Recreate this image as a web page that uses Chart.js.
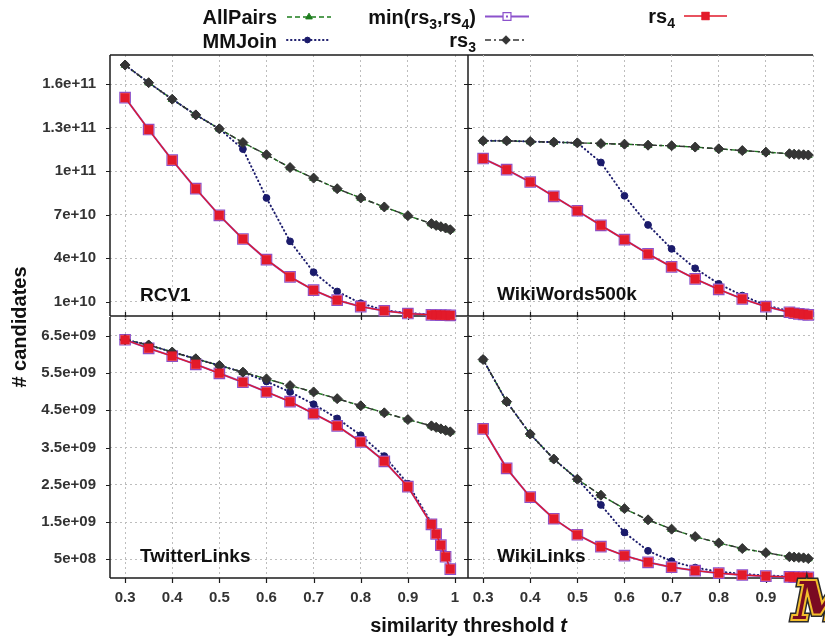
<!DOCTYPE html>
<html>
<head>
<meta charset="utf-8">
<title>Candidates vs. similarity threshold</title>
<script src="https://cdn.jsdelivr.net/npm/chart.js@4.4.1/dist/chart.umd.min.js"></script>
<style>
  html, body { margin: 0; padding: 0; background: #fff; }
  #stage { position: relative; width: 825px; height: 636px; overflow: hidden; background: #fff; }
  #stage canvas { position: absolute; left: 0; top: 0; }
</style>
</head>
<body>
<div id="stage">
  <canvas id="rcv1" width="825" height="636"></canvas>
  <canvas id="wikiwords" width="825" height="636"></canvas>
  <canvas id="twitter" width="825" height="636"></canvas>
  <canvas id="wikilinks" width="825" height="636"></canvas>
</div>
<script>
// ---------------------------------------------------------------------------
// Data: number of candidate pairs per similarity threshold t
// ---------------------------------------------------------------------------
const thresholds = [0.3, 0.35, 0.4, 0.45, 0.5, 0.55, 0.6, 0.65, 0.7, 0.75, 0.8, 0.85, 0.9, 0.95, 0.96, 0.97, 0.98, 0.99];

const xTicks = [0.3, 0.4, 0.5, 0.6, 0.7, 0.8, 0.9, 1.0];
const xTickLabels = ['0.3', '0.4', '0.5', '0.6', '0.7', '0.8', '0.9', '1'];

const yTicksUpper = [1e10, 4e10, 7e10, 1e11, 1.3e11, 1.6e11];
const yTickLabelsUpper = ['1e+10', '4e+10', '7e+10', '1e+11', '1.3e+11', '1.6e+11'];
const yTicksLower = [5e8, 1.5e9, 2.5e9, 3.5e9, 4.5e9, 5.5e9, 6.5e9];
const yTickLabelsLower = ['5e+08', '1.5e+09', '2.5e+09', '3.5e+09', '4.5e+09', '5.5e+09', '6.5e+09'];

// RCV1
const rcv1AllPairs = [173.1e9, 160.9e9, 149.5e9, 138.7e9, 129.1e9, 119.6e9, 111.2e9, 102.4e9, 95.1e9, 87.8e9, 81.4e9, 75.2e9, 69.2e9, 63.7e9, 62.5e9, 61.6e9, 60.7e9, 59.5e9];
const rcv1MMJoin   = [173.1e9, 160.9e9, 149.5e9, 138.7e9, 129.1e9, 115.1e9, 81.4e9, 51.5e9, 30.2e9, 16.9e9, 8.8e9, 4.0e9, 2.0e9, 1.0e9, 0.9e9, 0.8e9, 0.7e9, 0.6e9];
const rcv1MinRs    = [150.6e9, 128.6e9, 107.5e9, 87.8e9, 69.4e9, 53.1e9, 38.9e9, 27.0e9, 17.8e9, 10.9e9, 6.5e9, 3.6e9, 1.7e9, 0.8e9, 0.7e9, 0.6e9, 0.5e9, 0.4e9];
const rcv1Rs3      = [173.1e9, 160.9e9, 149.5e9, 138.7e9, 129.1e9, 119.6e9, 111.2e9, 102.4e9, 95.1e9, 87.8e9, 81.4e9, 75.2e9, 69.2e9, 63.7e9, 62.5e9, 61.6e9, 60.7e9, 59.5e9];
const rcv1Rs4      = [150.6e9, 128.6e9, 107.5e9, 87.8e9, 69.4e9, 53.1e9, 38.9e9, 27.0e9, 17.8e9, 10.9e9, 6.5e9, 3.6e9, 1.7e9, 0.8e9, 0.7e9, 0.6e9, 0.5e9, 0.4e9];

// WikiWords500k
const wwAllPairs = [120.8e9, 120.8e9, 120.3e9, 119.9e9, 119.4e9, 118.9e9, 118.5e9, 117.8e9, 117.4e9, 116.5e9, 115.3e9, 114.1e9, 113.0e9, 111.9e9, 111.6e9, 111.4e9, 111.2e9, 111.0e9];
const wwMMJoin   = [120.8e9, 120.8e9, 120.3e9, 119.9e9, 119.4e9, 105.9e9, 82.9e9, 62.8e9, 46.3e9, 32.9e9, 22.2e9, 14.1e9, 7.4e9, 3.3e9, 2.8e9, 2.3e9, 1.9e9, 1.5e9];
const wwMinRs    = [108.6e9, 101.0e9, 92.4e9, 82.5e9, 72.6e9, 62.5e9, 52.7e9, 42.8e9, 33.9e9, 25.6e9, 18.4e9, 11.8e9, 6.5e9, 2.6e9, 1.9e9, 1.5e9, 1.1e9, 0.8e9];
const wwRs3      = [120.8e9, 120.8e9, 120.3e9, 119.9e9, 119.4e9, 118.9e9, 118.5e9, 117.8e9, 117.4e9, 116.5e9, 115.3e9, 114.1e9, 113.0e9, 111.9e9, 111.6e9, 111.4e9, 111.2e9, 111.0e9];
const wwRs4      = [108.6e9, 101.0e9, 92.4e9, 82.5e9, 72.6e9, 62.5e9, 52.7e9, 42.8e9, 33.9e9, 25.6e9, 18.4e9, 11.8e9, 6.5e9, 2.6e9, 1.9e9, 1.5e9, 1.1e9, 0.8e9];

// TwitterLinks
const twAllPairs = [6.39e9, 6.25e9, 6.06e9, 5.88e9, 5.70e9, 5.52e9, 5.34e9, 5.16e9, 4.99e9, 4.81e9, 4.62e9, 4.43e9, 4.25e9, 4.08e9, 4.04e9, 4.00e9, 3.96e9, 3.92e9];
const twMMJoin   = [6.39e9, 6.25e9, 6.06e9, 5.88e9, 5.70e9, 5.52e9, 5.27e9, 4.99e9, 4.66e9, 4.28e9, 3.83e9, 3.27e9, 2.53e9, 1.48e9, 1.20e9, 0.91e9, 0.60e9, 0.28e9];
const twMinRs    = [6.39e9, 6.16e9, 5.95e9, 5.73e9, 5.49e9, 5.25e9, 4.99e9, 4.73e9, 4.41e9, 4.08e9, 3.65e9, 3.13e9, 2.45e9, 1.44e9, 1.18e9, 0.88e9, 0.57e9, 0.24e9];
const twRs3      = [6.39e9, 6.25e9, 6.06e9, 5.88e9, 5.70e9, 5.52e9, 5.34e9, 5.16e9, 4.99e9, 4.81e9, 4.62e9, 4.43e9, 4.25e9, 4.08e9, 4.04e9, 4.00e9, 3.96e9, 3.92e9];
const twRs4      = [6.39e9, 6.16e9, 5.95e9, 5.73e9, 5.49e9, 5.25e9, 4.99e9, 4.73e9, 4.41e9, 4.08e9, 3.65e9, 3.13e9, 2.45e9, 1.44e9, 1.18e9, 0.88e9, 0.57e9, 0.24e9];

// WikiLinks
const wlAllPairs = [5.86e9, 4.73e9, 3.86e9, 3.19e9, 2.65e9, 2.22e9, 1.86e9, 1.56e9, 1.31e9, 1.11e9, 0.94e9, 0.79e9, 0.68e9, 0.57e9, 0.56e9, 0.55e9, 0.54e9, 0.52e9];
const wlMMJoin   = [5.86e9, 4.73e9, 3.86e9, 3.19e9, 2.65e9, 1.96e9, 1.22e9, 0.73e9, 0.45e9, 0.28e9, 0.17e9, 0.11e9, 0.07e9, 0.04e9, 0.035e9, 0.03e9, 0.025e9, 0.02e9];
const wlMinRs    = [4.00e9, 2.94e9, 2.17e9, 1.59e9, 1.16e9, 0.84e9, 0.60e9, 0.42e9, 0.29e9, 0.20e9, 0.13e9, 0.08e9, 0.05e9, 0.03e9, 0.025e9, 0.02e9, 0.018e9, 0.015e9];
const wlRs3      = [5.86e9, 4.73e9, 3.86e9, 3.19e9, 2.65e9, 2.22e9, 1.86e9, 1.56e9, 1.31e9, 1.11e9, 0.94e9, 0.79e9, 0.68e9, 0.57e9, 0.56e9, 0.55e9, 0.54e9, 0.52e9];
const wlRs4      = [4.00e9, 2.94e9, 2.17e9, 1.59e9, 1.16e9, 0.84e9, 0.60e9, 0.42e9, 0.29e9, 0.20e9, 0.13e9, 0.08e9, 0.05e9, 0.03e9, 0.025e9, 0.02e9, 0.018e9, 0.015e9];

// ---------------------------------------------------------------------------
// Styling
// ---------------------------------------------------------------------------
const FONT = '"Liberation Sans", Arial, Helvetica, sans-serif';
const W = 825, H = 636;
const AXIS = '#1c1c1c';
const GRID = '#bdbdbd';
const X_MIN = 0.268, X_MAX = 1.0;

Chart.defaults.font.family = FONT;

const seriesStyle = {
  allPairs: { label: 'AllPairs', color: '#1d7d1d', width: 1.4, dash: [5, 3], cap: 'butt',
              pointStyle: 'triangle', radius: 4.5, fill: '#1d7d1d', order: 5 },
  mmJoin:   { label: 'MMJoin', color: '#1b1b6b', width: 2, dash: [0.5, 3.5], cap: 'round',
              pointStyle: 'circle', radius: 3.4, fill: '#1b1b6b', order: 4 },
  minRs:    { label: 'min(rs3,rs4)', color: '#8c52cc', width: 2, dash: [], cap: 'butt',
              pointStyle: 'rect', radius: 7.4, fill: '#ffffff', pointBorderWidth: 1.2, order: 3 },
  rs3:      { label: 'rs3', color: '#353535', width: 1.4, dash: [6, 3, 2, 3], cap: 'butt',
              pointStyle: 'rectRot', radius: 5, fill: '#353535', order: 2 },
  rs4:      { label: 'rs4', color: '#e0192a', width: 1.3, dash: [], cap: 'butt',
              pointStyle: 'rect', radius: 6.3, fill: '#e31a2a', pointBorderWidth: 0.5, order: 1 }
};
const seriesKeys = ['allPairs', 'mmJoin', 'minRs', 'rs3', 'rs4'];

function buildDatasets(series) {
  return seriesKeys.map(key => {
    const s = seriesStyle[key];
    return {
      label: s.label,
      data: thresholds.map((t, i) => ({ x: t, y: series[key][i] })),
      borderColor: s.color,
      borderWidth: s.width,
      borderDash: s.dash,
      borderCapStyle: s.cap,
      pointStyle: s.pointStyle,
      pointRadius: s.radius,
      pointHoverRadius: s.radius,
      pointBackgroundColor: s.fill,
      pointBorderColor: s.color,
      pointBorderWidth: s.pointBorderWidth ?? 1,
      tension: 0,
      fill: false,
      clip: false,
      order: s.order
    };
  });
}

// axis lines, tick marks and the panel caption
const panelFrame = {
  id: 'panelFrame',
  beforeDatasetsDraw(chart, args, o) {
    const { ctx, chartArea: a } = chart;
    const xs = chart.scales.x, ys = chart.scales.y;
    ctx.save();
    ctx.setLineDash([]);
    ctx.strokeStyle = AXIS;
    ctx.lineWidth = 1.5;
    ctx.beginPath();
    ctx.moveTo(a.left, a.top);
    ctx.lineTo(a.left, a.bottom);
    for (const yy of o.hLines) {
      ctx.moveTo(o.hFrom, yy);
      ctx.lineTo(o.hTo, yy);
    }
    ctx.stroke();
    ctx.lineWidth = 1.2;
    ctx.beginPath();
    for (const v of o.yTicks) {
      const py = Math.round(ys.getPixelForValue(v)) + 0.5;
      ctx.moveTo(a.left - o.yTickOut, py);
      ctx.lineTo(a.left + o.yTickIn, py);
    }
    for (const v of xTicks) {
      const px = Math.round(xs.getPixelForValue(v)) + 0.5;
      ctx.moveTo(px, a.bottom - o.xTickIn);
      ctx.lineTo(px, a.bottom + o.xTickOut);
    }
    ctx.stroke();
    ctx.restore();
  },
  afterDatasetsDraw(chart, args, o) {
    const { ctx, chartArea: a } = chart;
    ctx.save();
    ctx.fillStyle = '#111';
    ctx.font = 'bold 19px ' + FONT;
    ctx.textAlign = 'left';
    ctx.textBaseline = 'middle';
    ctx.fillText(o.caption, a.left + o.captionDx, a.bottom - o.captionDy);
    ctx.restore();
  }
};

// helper to write text with subscripts, right aligned at xRight
function drawRich(ctx, parts, xRight, base) {
  const big = 'bold 20px ' + FONT, small = 'bold 14px ' + FONT;
  let total = 0;
  const widths = parts.map(p => { ctx.font = p[1] ? small : big; const w = ctx.measureText(p[0]).width; total += w; return w; });
  let x = xRight - total;
  parts.forEach((p, i) => {
    ctx.font = p[1] ? small : big;
    ctx.fillText(p[0], x, p[1] ? base + 5 : base);
    x += widths[i];
  });
}

const legendLayout = [
  { key: 'allPairs', parts: [['AllPairs']], right: 277, base: 24, lineY: 17, x0: 287, x1: 331 },
  { key: 'mmJoin',   parts: [['MMJoin']], right: 277, base: 47.5, lineY: 40, x0: 287, x1: 328 },
  { key: 'minRs',    parts: [['min(rs'], ['3', 1], [',rs'], ['4', 1], [')']], right: 476, base: 24, lineY: 16.5, x0: 485, x1: 529 },
  { key: 'rs3',      parts: [['rs'], ['3', 1]], right: 476, base: 46.5, lineY: 40, x0: 485, x1: 527 },
  { key: 'rs4',      parts: [['rs'], ['4', 1]], right: 675, base: 22.5, lineY: 16, x0: 684, x1: 727 }
];

const pageDecor = {
  id: 'pageDecor',
  afterDraw(chart) {
    const ctx = chart.ctx;
    ctx.save();
    // legend
    ctx.fillStyle = '#111';
    ctx.textBaseline = 'alphabetic';
    ctx.textAlign = 'left';
    for (const e of legendLayout) {
      const s = seriesStyle[e.key];
      ctx.fillStyle = '#111';
      drawRich(ctx, e.parts, e.right, e.base);
      ctx.save();
      ctx.strokeStyle = s.color;
      ctx.lineWidth = s.width;
      ctx.lineCap = s.cap;
      ctx.setLineDash(s.dash);
      ctx.beginPath();
      ctx.moveTo(e.x0, e.lineY);
      ctx.lineTo(e.x1, e.lineY);
      ctx.stroke();
      ctx.setLineDash([]);
      const mx = (e.x0 + e.x1) / 2;
      ctx.fillStyle = s.fill;
      ctx.strokeStyle = s.color;
      ctx.lineWidth = s.pointBorderWidth ?? 1;
      const r = e.key === 'minRs' ? 5.6 : (e.key === 'rs4' ? 5.6 : s.radius * 0.85);
      Chart.helpers.drawPoint(ctx, { pointStyle: s.pointStyle, radius: r, rotation: 0, borderWidth: ctx.lineWidth }, mx, e.lineY);
      if (e.key === 'minRs') {
        ctx.fillStyle = s.color;
        ctx.fillRect(mx - 1, e.lineY - 1, 2, 2);
      }
      ctx.restore();
    }
    // axis titles
    ctx.fillStyle = '#111';
    ctx.font = 'bold 20px ' + FONT;
    ctx.textAlign = 'center';
    ctx.textBaseline = 'alphabetic';
    ctx.save();
    ctx.translate(26, 327);
    ctx.rotate(-Math.PI / 2);
    ctx.fillText('# candidates', 0, 0);
    ctx.restore();
    const t1 = 'similarity threshold ';
    ctx.font = 'bold 20px ' + FONT;
    const w1 = ctx.measureText(t1).width;
    ctx.font = 'italic bold 20px ' + FONT;
    const w2 = ctx.measureText('t').width;
    const start = 468.5 - (w1 + w2) / 2;
    ctx.textAlign = 'left';
    ctx.font = 'bold 20px ' + FONT;
    ctx.fillText(t1, start, 632);
    ctx.font = 'italic bold 20px ' + FONT;
    ctx.fillText('t', start + w1, 632);
    ctx.restore();
  }
};

// block "M" emblem in the lower right corner
const cornerMark = {
  id: 'cornerMark',
  afterDraw(chart) {
    const ctx = chart.ctx;
    ctx.save();
    ctx.font = 'italic bold 52px "DejaVu Serif", serif';
    ctx.textAlign = 'left';
    ctx.textBaseline = 'alphabetic';
    ctx.lineJoin = 'miter';
    ctx.strokeStyle = '#2a2a2a';
    ctx.lineWidth = 7;
    ctx.strokeText('M', 794, 619);
    ctx.strokeStyle = '#f3bd2c';
    ctx.lineWidth = 4;
    ctx.strokeText('M', 794, 619);
    ctx.fillStyle = '#7a0a22';
    ctx.fillText('M', 794, 619);
    ctx.restore();
  }
};

function panelConfig(p) {
  const a = p.area;
  return {
    type: 'line',
    data: { datasets: buildDatasets(p.series) },
    options: {
      responsive: false,
      maintainAspectRatio: false,
      animation: false,
      events: [],
      layout: { padding: { left: 0, top: a.top, right: W - a.right, bottom: 0 } },
      plugins: {
        legend: { display: false },
        tooltip: { enabled: false },
        panelFrame: p.frame
      },
      scales: {
        x: {
          type: 'linear',
          position: 'bottom',
          min: X_MIN,
          max: X_MAX,
          bounds: 'data',
          afterBuildTicks: s => { s.ticks = xTicks.map(v => ({ value: v })); },
          afterFit: s => { s.height = H - a.bottom; s.paddingLeft = 0; s.paddingRight = 0; },
          grid: { color: GRID, lineWidth: 1, drawTicks: false },
          border: { display: false, dash: [2, 3] },
          ticks: {
            display: p.showX, autoSkip: false, maxRotation: 0, minRotation: 0, padding: 11,
            color: '#333', font: { size: 15, weight: 'bold' },
            callback: (v, i) => xTickLabels[i]
          }
        },
        y: {
          type: 'linear',
          position: 'left',
          min: 0,
          max: p.yMax,
          bounds: 'data',
          afterBuildTicks: s => { s.ticks = p.yTicks.map(v => ({ value: v })); },
          afterFit: s => { s.width = a.left; s.paddingTop = 0; s.paddingBottom = 0; },
          grid: { color: GRID, lineWidth: 1, drawTicks: false },
          border: { display: false, dash: [2, 3] },
          ticks: {
            display: p.showY, autoSkip: false, padding: 14,
            color: '#333', font: { size: 15, weight: 'bold' },
            callback: (v, i) => p.yTickLabels[i]
          }
        }
      }
    },
    plugins: [panelFrame].concat(p.extra || [])
  };
}

const RIGHT_END = 813;

new Chart(document.getElementById('rcv1'), panelConfig({
  area: { left: 110, right: 455, top: 55, bottom: 316 },
  series: { allPairs: rcv1AllPairs, mmJoin: rcv1MMJoin, minRs: rcv1MinRs, rs3: rcv1Rs3, rs4: rcv1Rs4 },
  yMax: 1.8e11, yTicks: yTicksUpper, yTickLabels: yTickLabelsUpper,
  showX: false, showY: true,
  frame: { hLines: [55, 316], hFrom: 110, hTo: RIGHT_END, yTicks: yTicksUpper, yTickOut: 4, yTickIn: 0,
           xTickIn: 4, xTickOut: 4, caption: 'RCV1', captionDx: 30, captionDy: 20.5 },
  extra: [pageDecor]
}));

new Chart(document.getElementById('wikiwords'), panelConfig({
  area: { left: 468, right: 813, top: 55, bottom: 316 },
  series: { allPairs: wwAllPairs, mmJoin: wwMMJoin, minRs: wwMinRs, rs3: wwRs3, rs4: wwRs4 },
  yMax: 1.8e11, yTicks: yTicksUpper, yTickLabels: yTickLabelsUpper,
  showX: false, showY: false,
  frame: { hLines: [], hFrom: 0, hTo: 0, yTicks: yTicksUpper, yTickOut: 4, yTickIn: 4,
           xTickIn: 4, xTickOut: 4, caption: 'WikiWords500k', captionDx: 29, captionDy: 21 }
}));

new Chart(document.getElementById('twitter'), panelConfig({
  area: { left: 110, right: 455, top: 317, bottom: 578 },
  series: { allPairs: twAllPairs, mmJoin: twMMJoin, minRs: twMinRs, rs3: twRs3, rs4: twRs4 },
  yMax: 7e9, yTicks: yTicksLower, yTickLabels: yTickLabelsLower,
  showX: true, showY: true,
  frame: { hLines: [578], hFrom: 110, hTo: RIGHT_END, yTicks: yTicksLower, yTickOut: 4, yTickIn: 0,
           xTickIn: 0, xTickOut: 5, caption: 'TwitterLinks', captionDx: 30, captionDy: 21.5 }
}));

new Chart(document.getElementById('wikilinks'), panelConfig({
  area: { left: 468, right: 813, top: 317, bottom: 578 },
  series: { allPairs: wlAllPairs, mmJoin: wlMMJoin, minRs: wlMinRs, rs3: wlRs3, rs4: wlRs4 },
  yMax: 7e9, yTicks: yTicksLower, yTickLabels: yTickLabelsLower,
  showX: true, showY: false,
  frame: { hLines: [], hFrom: 0, hTo: 0, yTicks: yTicksLower, yTickOut: 4, yTickIn: 4,
           xTickIn: 0, xTickOut: 5, caption: 'WikiLinks', captionDx: 29, captionDy: 21.5 },
  extra: [cornerMark]
}));
</script>
</body>
</html>
